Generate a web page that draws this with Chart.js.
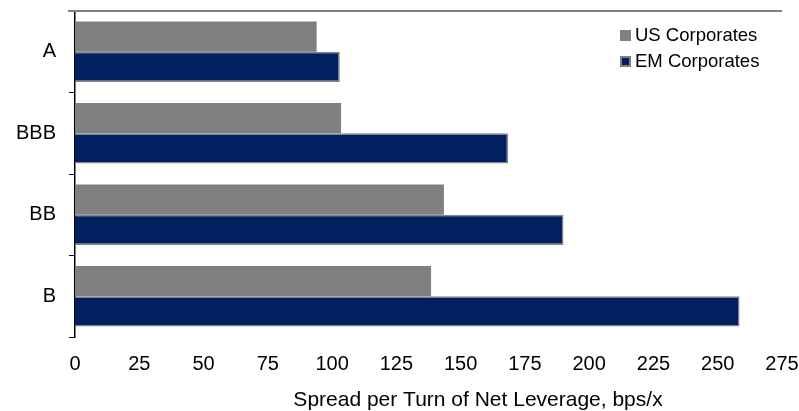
<!DOCTYPE html>
<html>
<head>
<meta charset="utf-8">
<script src="https://cdn.jsdelivr.net/npm/chart.js@4"></script>
<style>
  html, body { margin: 0; padding: 0; background: #fff; }
  #wrap { width: 799px; height: 411px; }
</style>
</head>
<body>
<div id="wrap"><canvas id="chart"></canvas></div>
<script>
// ratings buckets and spread per turn of leverage (bps/x)
const ratings = ['A', 'BBB', 'BB', 'B'];
const usCorporates = [94, 103.5, 143.5, 138.5];
const emCorporates = [103, 168.5, 190, 258.5];
const axisTitle = 'Spread per Turn of Net Leverage, bps/x';

const family = '"Liberation Sans", Arial, sans-serif';
const tickFont = { family: family, size: 20 };

// top border line of the plot, the corner legend and the axis title
const extras = {
  id: 'extras',
  afterDraw(chart) {
    const { ctx, chartArea } = chart;
    ctx.save();
    ctx.strokeStyle = '#808080';
    ctx.lineWidth = 2;
    ctx.beginPath();
    ctx.moveTo(chartArea.left - 7, chartArea.top);
    ctx.lineTo(chartArea.right, chartArea.top);
    ctx.stroke();

    ctx.font = '18.5px ' + family;
    ctx.textBaseline = 'middle';
    chart.data.datasets.forEach((ds, i) => {
      const x = chartArea.right - 162;
      const y = chartArea.top + 24 + i * 26;
      ctx.fillStyle = '#808080';
      ctx.fillRect(x, y - 5, 11, 11);
      ctx.fillStyle = ds.backgroundColor;
      if (i > 0) ctx.fillRect(x + 2, y - 3, 7, 7);
      ctx.fillStyle = '#000';
      ctx.textAlign = 'left';
      ctx.fillText(ds.label, x + 15, y + 1);
    });

    ctx.font = '21px ' + family;
    ctx.textAlign = 'center';
    ctx.fillText(axisTitle, chartArea.left + 403, 400);
    ctx.restore();
  }
};

new Chart(document.getElementById('chart'), {
  type: 'bar',
  data: {
    labels: ratings,
    datasets: [
      {
        label: 'US Corporates',
        data: usCorporates,
        backgroundColor: '#808080',
        borderWidth: 0
      },
      {
        label: 'EM Corporates',
        data: emCorporates,
        backgroundColor: '#002060',
        borderColor: '#858585',
        borderWidth: 1.5
      }
    ]
  },
  options: {
    indexAxis: 'y',
    responsive: true,
    maintainAspectRatio: false,
    animation: false,
    categoryPercentage: 0.74,
    barPercentage: 1,
    layout: { padding: 0 },
    plugins: {
      legend: { display: false },
      tooltip: { enabled: false }
    },
    scales: {
      x: {
        min: 0,
        max: 275,
        ticks: { stepSize: 25, color: '#000', font: tickFont, padding: 15, maxRotation: 0 },
        grid: { display: false, drawTicks: false },
        border: { display: false },
        afterFit(scale) {
          scale.height = 74;
          scale.paddingLeft = 0;
          scale.paddingRight = 17;
        }
      },
      y: {
        ticks: { color: '#000', font: tickFont, padding: 13 },
        grid: { display: true, drawOnChartArea: false, drawTicks: true, tickLength: 6, color: '#000', offset: true },
        border: { display: true, color: '#000', width: 1.5 },
        afterFit(scale) {
          scale.width = 75;
          scale.paddingTop = 11;
          scale.paddingBottom = 0;
        }
      }
    }
  },
  plugins: [extras]
});
</script>
</body>
</html>
